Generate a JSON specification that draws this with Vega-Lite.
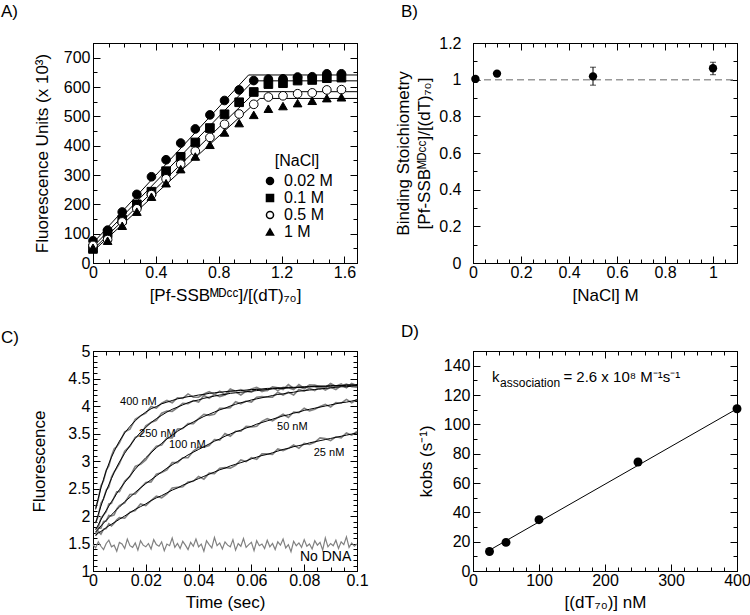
{
"$schema": "https://vega.github.io/schema/vega-lite/v6.json",
"background": "white",
"padding": {"left": 0, "top": 2, "right": 0, "bottom": 0},
"columns": 2,
"spacing": {"row": 88, "column": 116},
"bounds": "flush",
"datasets": {
"kin": [
{"t":0.001,"a":2.15,"b":1.88,"c":1.77,"d":1.68,"e":1.64,"fa":2.12,"fb":1.87,"fc":1.75,"fd":1.71,"fe":1.65},
{"t":0.002,"a":2.30,"b":2.00,"c":1.79,"d":1.78,"e":1.72,"fa":2.32,"fb":2.03,"fc":1.84,"fd":1.76,"fe":1.69},
{"t":0.003,"a":2.55,"b":2.23,"c":1.96,"d":1.78,"e":1.67,"fa":2.51,"fb":2.18,"fc":1.93,"fd":1.82,"fe":1.72},
{"t":0.004,"a":2.64,"b":2.31,"c":2.02,"d":1.90,"e":1.76,"fa":2.67,"fb":2.32,"fc":2.02,"fd":1.87,"fe":1.75},
{"t":0.005,"a":2.83,"b":2.47,"c":2.08,"d":1.91,"e":1.77,"fa":2.82,"fb":2.45,"fc":2.10,"fd":1.92,"fe":1.79},
{"t":0.006,"a":2.91,"b":2.53,"c":2.22,"d":2.01,"e":1.86,"fa":2.95,"fb":2.57,"fc":2.18,"fd":1.97,"fe":1.82},
{"t":0.007,"a":3.09,"b":2.71,"c":2.23,"d":2.00,"e":1.82,"fa":3.07,"fb":2.68,"fc":2.26,"fd":2.02,"fe":1.85},
{"t":0.008,"a":3.22,"b":2.80,"c":2.34,"d":2.02,"e":1.87,"fa":3.17,"fb":2.79,"fc":2.33,"fd":2.07,"fe":1.88},
{"t":0.009,"a":3.26,"b":2.87,"c":2.44,"d":2.13,"e":1.93,"fa":3.27,"fb":2.89,"fc":2.41,"fd":2.12,"fe":1.91},
{"t":0.010,"a":3.33,"b":2.95,"c":2.44,"d":2.19,"e":1.97,"fa":3.36,"fb":2.98,"fc":2.48,"fd":2.16,"fe":1.94},
{"t":0.012,"a":3.53,"b":3.18,"c":2.63,"d":2.24,"e":1.96,"fa":3.51,"fb":3.14,"fc":2.61,"fd":2.26,"fe":2.00},
{"t":0.014,"a":3.58,"b":3.27,"c":2.72,"d":2.39,"e":2.07,"fa":3.63,"fb":3.28,"fc":2.73,"fd":2.34,"fe":2.06},
{"t":0.016,"a":3.76,"b":3.43,"c":2.90,"d":2.40,"e":2.10,"fa":3.73,"fb":3.41,"fc":2.85,"fd":2.43,"fe":2.12},
{"t":0.018,"a":3.82,"b":3.47,"c":2.94,"d":2.51,"e":2.22,"fa":3.82,"fb":3.52,"fc":2.96,"fd":2.51,"fe":2.17},
{"t":0.020,"a":3.87,"b":3.64,"c":3.02,"d":2.61,"e":2.19,"fa":3.89,"fb":3.61,"fc":3.06,"fd":2.59,"fe":2.22},
{"t":0.022,"a":3.99,"b":3.70,"c":3.16,"d":2.62,"e":2.28,"fa":3.95,"fb":3.70,"fc":3.15,"fd":2.66,"fe":2.28},
{"t":0.024,"a":3.96,"b":3.74,"c":3.27,"d":2.76,"e":2.36,"fa":3.99,"fb":3.77,"fc":3.24,"fd":2.73,"fe":2.33},
{"t":0.026,"a":4.05,"b":3.87,"c":3.29,"d":2.79,"e":2.33,"fa":4.04,"fb":3.83,"fc":3.32,"fd":2.80,"fe":2.37},
{"t":0.028,"a":4.10,"b":3.91,"c":3.42,"d":2.84,"e":2.40,"fa":4.07,"fb":3.89,"fc":3.40,"fd":2.87,"fe":2.42},
{"t":0.030,"a":4.06,"b":3.90,"c":3.42,"d":2.97,"e":2.51,"fa":4.10,"fb":3.94,"fc":3.47,"fd":2.93,"fe":2.47},
{"t":0.032,"a":4.15,"b":3.97,"c":3.58,"d":2.97,"e":2.52,"fa":4.13,"fb":3.98,"fc":3.54,"fd":2.99,"fe":2.51},
{"t":0.034,"a":4.14,"b":4.05,"c":3.59,"d":3.06,"e":2.53,"fa":4.15,"fb":4.02,"fc":3.60,"fd":3.05,"fe":2.56},
{"t":0.036,"a":4.22,"b":4.04,"c":3.68,"d":3.06,"e":2.62,"fa":4.17,"fb":4.06,"fc":3.66,"fd":3.11,"fe":2.60},
{"t":0.038,"a":4.16,"b":4.10,"c":3.68,"d":3.18,"e":2.63,"fa":4.18,"fb":4.09,"fc":3.71,"fd":3.16,"fe":2.64},
{"t":0.040,"a":4.16,"b":4.07,"c":3.77,"d":3.25,"e":2.72,"fa":4.20,"fb":4.11,"fc":3.76,"fd":3.21,"fe":2.68},
{"t":0.042,"a":4.22,"b":4.19,"c":3.85,"d":3.25,"e":2.67,"fa":4.21,"fb":4.14,"fc":3.81,"fd":3.26,"fe":2.72},
{"t":0.044,"a":4.26,"b":4.14,"c":3.83,"d":3.28,"e":2.78,"fa":4.23,"fb":4.16,"fc":3.85,"fd":3.31,"fe":2.76},
{"t":0.046,"a":4.21,"b":4.21,"c":3.85,"d":3.39,"e":2.77,"fa":4.24,"fb":4.18,"fc":3.89,"fd":3.36,"fe":2.80},
{"t":0.048,"a":4.27,"b":4.17,"c":3.96,"d":3.38,"e":2.87,"fa":4.25,"fb":4.20,"fc":3.93,"fd":3.40,"fe":2.84},
{"t":0.050,"a":4.21,"b":4.20,"c":3.96,"d":3.50,"e":2.88,"fa":4.26,"fb":4.21,"fc":3.96,"fd":3.45,"fe":2.87},
{"t":0.052,"a":4.31,"b":4.27,"c":3.97,"d":3.45,"e":2.87,"fa":4.27,"fb":4.23,"fc":4.00,"fd":3.49,"fe":2.91},
{"t":0.054,"a":4.27,"b":4.26,"c":4.08,"d":3.54,"e":2.92,"fa":4.28,"fb":4.24,"fc":4.03,"fd":3.53,"fe":2.94},
{"t":0.056,"a":4.30,"b":4.20,"c":4.04,"d":3.54,"e":3.02,"fa":4.28,"fb":4.25,"fc":4.06,"fd":3.56,"fe":2.97},
{"t":0.058,"a":4.26,"b":4.27,"c":4.09,"d":3.63,"e":2.99,"fa":4.29,"fb":4.26,"fc":4.08,"fd":3.60,"fe":3.00},
{"t":0.060,"a":4.31,"b":4.25,"c":4.07,"d":3.62,"e":3.06,"fa":4.30,"fb":4.27,"fc":4.11,"fd":3.63,"fe":3.04},
{"t":0.062,"a":4.34,"b":4.32,"c":4.16,"d":3.63,"e":3.03,"fa":4.30,"fb":4.28,"fc":4.13,"fd":3.67,"fe":3.07},
{"t":0.064,"a":4.29,"b":4.26,"c":4.17,"d":3.72,"e":3.13,"fa":4.31,"fb":4.29,"fc":4.15,"fd":3.70,"fe":3.10},
{"t":0.066,"a":4.28,"b":4.29,"c":4.16,"d":3.77,"e":3.13,"fa":4.32,"fb":4.30,"fc":4.17,"fd":3.73,"fe":3.12},
{"t":0.068,"a":4.35,"b":4.34,"c":4.16,"d":3.73,"e":3.12,"fa":4.32,"fb":4.31,"fc":4.19,"fd":3.76,"fe":3.15},
{"t":0.070,"a":4.33,"b":4.28,"c":4.25,"d":3.79,"e":3.22,"fa":4.33,"fb":4.32,"fc":4.21,"fd":3.79,"fe":3.18},
{"t":0.072,"a":4.30,"b":4.34,"c":4.20,"d":3.85,"e":3.19,"fa":4.33,"fb":4.32,"fc":4.22,"fd":3.82,"fe":3.21},
{"t":0.074,"a":4.39,"b":4.33,"c":4.25,"d":3.79,"e":3.23,"fa":4.34,"fb":4.33,"fc":4.24,"fd":3.84,"fe":3.23},
{"t":0.076,"a":4.32,"b":4.30,"c":4.20,"d":3.89,"e":3.29,"fa":4.34,"fb":4.33,"fc":4.25,"fd":3.87,"fe":3.26},
{"t":0.078,"a":4.35,"b":4.39,"c":4.30,"d":3.88,"e":3.23,"fa":4.34,"fb":4.34,"fc":4.27,"fd":3.89,"fe":3.28},
{"t":0.080,"a":4.31,"b":4.32,"c":4.27,"d":3.96,"e":3.32,"fa":4.35,"fb":4.34,"fc":4.28,"fd":3.92,"fe":3.30},
{"t":0.082,"a":4.38,"b":4.38,"c":4.32,"d":3.91,"e":3.30,"fa":4.35,"fb":4.35,"fc":4.29,"fd":3.94,"fe":3.33},
{"t":0.084,"a":4.38,"b":4.36,"c":4.28,"d":3.94,"e":3.34,"fa":4.36,"fb":4.35,"fc":4.30,"fd":3.96,"fe":3.35},
{"t":0.086,"a":4.35,"b":4.31,"c":4.35,"d":3.99,"e":3.42,"fa":4.36,"fb":4.36,"fc":4.31,"fd":3.98,"fe":3.37},
{"t":0.088,"a":4.33,"b":4.34,"c":4.29,"d":4.03,"e":3.41,"fa":4.36,"fb":4.36,"fc":4.32,"fd":4.00,"fe":3.39},
{"t":0.090,"a":4.41,"b":4.40,"c":4.34,"d":3.98,"e":3.37,"fa":4.37,"fb":4.36,"fc":4.33,"fd":4.02,"fe":3.41},
{"t":0.092,"a":4.35,"b":4.36,"c":4.30,"d":4.06,"e":3.44,"fa":4.37,"fb":4.37,"fc":4.34,"fd":4.04,"fe":3.43},
{"t":0.094,"a":4.38,"b":4.40,"c":4.37,"d":4.05,"e":3.42,"fa":4.37,"fb":4.37,"fc":4.35,"fd":4.06,"fe":3.45},
{"t":0.096,"a":4.33,"b":4.34,"c":4.40,"d":4.12,"e":3.51,"fa":4.38,"fb":4.38,"fc":4.35,"fd":4.07,"fe":3.47},
{"t":0.098,"a":4.41,"b":4.40,"c":4.35,"d":4.06,"e":3.47,"fa":4.38,"fb":4.38,"fc":4.36,"fd":4.09,"fe":3.49},
{"t":0.100,"a":4.37,"b":4.35,"c":4.34,"d":4.12,"e":3.54,"fa":4.38,"fb":4.38,"fc":4.37,"fd":4.11,"fe":3.51}
],
"nodna": [
{"t":0.000,"v":1.48},{"t":0.001,"v":1.42},{"t":0.002,"v":1.53},{"t":0.003,"v":1.45},{"t":0.004,"v":1.39},{"t":0.005,"v":1.50},{"t":0.006,"v":1.56},{"t":0.007,"v":1.44},{"t":0.008,"v":1.47},{"t":0.009,"v":1.36},
{"t":0.010,"v":1.52},{"t":0.011,"v":1.49},{"t":0.012,"v":1.41},{"t":0.013,"v":1.58},{"t":0.014,"v":1.46},{"t":0.015,"v":1.43},{"t":0.016,"v":1.51},{"t":0.017,"v":1.38},{"t":0.018,"v":1.55},{"t":0.019,"v":1.47},
{"t":0.020,"v":1.44},{"t":0.021,"v":1.50},{"t":0.022,"v":1.40},{"t":0.023,"v":1.57},{"t":0.024,"v":1.48},{"t":0.025,"v":1.45},{"t":0.026,"v":1.53},{"t":0.027,"v":1.37},{"t":0.028,"v":1.49},{"t":0.029,"v":1.46},
{"t":0.030,"v":1.60},{"t":0.031,"v":1.43},{"t":0.032,"v":1.50},{"t":0.033,"v":1.41},{"t":0.034,"v":1.54},{"t":0.035,"v":1.47},{"t":0.036,"v":1.39},{"t":0.037,"v":1.52},{"t":0.038,"v":1.45},{"t":0.039,"v":1.58},
{"t":0.040,"v":1.44},{"t":0.041,"v":1.49},{"t":0.042,"v":1.36},{"t":0.043,"v":1.55},{"t":0.044,"v":1.48},{"t":0.045,"v":1.42},{"t":0.046,"v":1.61},{"t":0.047,"v":1.46},{"t":0.048,"v":1.51},{"t":0.049,"v":1.40},
{"t":0.050,"v":1.53},{"t":0.051,"v":1.47},{"t":0.052,"v":1.44},{"t":0.053,"v":1.57},{"t":0.054,"v":1.38},{"t":0.055,"v":1.50},{"t":0.056,"v":1.45},{"t":0.057,"v":1.59},{"t":0.058,"v":1.43},{"t":0.059,"v":1.48},
{"t":0.060,"v":1.52},{"t":0.061,"v":1.37},{"t":0.062,"v":1.55},{"t":0.063,"v":1.46},{"t":0.064,"v":1.49},{"t":0.065,"v":1.41},{"t":0.066,"v":1.56},{"t":0.067,"v":1.44},{"t":0.068,"v":1.50},{"t":0.069,"v":1.39},
{"t":0.070,"v":1.53},{"t":0.071,"v":1.47},{"t":0.072,"v":1.58},{"t":0.073,"v":1.42},{"t":0.074,"v":1.48},{"t":0.075,"v":1.35},{"t":0.076,"v":1.54},{"t":0.077,"v":1.46},{"t":0.078,"v":1.51},{"t":0.079,"v":1.43},
{"t":0.080,"v":1.57},{"t":0.081,"v":1.45},{"t":0.082,"v":1.49},{"t":0.083,"v":1.40},{"t":0.084,"v":1.55},{"t":0.085,"v":1.47},{"t":0.086,"v":1.52},{"t":0.087,"v":1.38},{"t":0.088,"v":1.60},{"t":0.089,"v":1.44},
{"t":0.090,"v":1.50},{"t":0.091,"v":1.46},{"t":0.092,"v":1.56},{"t":0.093,"v":1.41},{"t":0.094,"v":1.53},{"t":0.095,"v":1.48},{"t":0.096,"v":1.62},{"t":0.097,"v":1.43},{"t":0.098,"v":1.51},{"t":0.099,"v":1.45},
{"t":0.100,"v":1.49}
]
},
"concat": [
{
"width": 264, "height": 220,
"title": {"text": "A)", "dx": -92, "offset": 14},
"layer": [
{
"data": {"values": [
{"s":"0.02 M","x":0,"y":68},{"s":"0.02 M","x":0.99,"y":641},{"s":"0.02 M","x":1.68,"y":641},
{"s":"0.1 M","x":0,"y":55},{"s":"0.1 M","x":1.02,"y":621},{"s":"0.1 M","x":1.68,"y":621},
{"s":"0.5 M","x":0,"y":46},{"s":"0.5 M","x":1.035,"y":584},{"s":"0.5 M","x":1.68,"y":584},
{"s":"1 M","x":0,"y":40},{"s":"1 M","x":1.063,"y":561},{"s":"1 M","x":1.68,"y":561}
]},
"mark": {"type": "line", "color": "black", "strokeWidth": 1},
"encoding": {
"x": {"field": "x", "type": "quantitative", "scale": {"domain": [0, 1.68], "nice": false},
 "axis": {"orient": "top", "labels": false, "title": null, "values": [0,0.1,0.2,0.3,0.4,0.5,0.6,0.7,0.8,0.9,1,1.1,1.2,1.3,1.4,1.5,1.6],
  "tickSize": {"condition": {"test": "round(datum.value*10)%4==0", "value": -7}, "value": -4}}},
"y": {"field": "y", "type": "quantitative", "scale": {"domain": [0, 750], "nice": false},
 "axis": {"orient": "right", "labels": false, "title": null, "values": [0,50,100,150,200,250,300,350,400,450,500,550,600,650,700,750],
  "tickSize": {"condition": {"test": "datum.value%100==0", "value": -7}, "value": -4}}},
"detail": {"field": "s"}
}
},
{
"data": {"values": [
{"s":"0.02 M","x":0,"y":76},{"s":"0.02 M","x":0.093,"y":112},{"s":"0.02 M","x":0.186,"y":174},{"s":"0.02 M","x":0.279,"y":234},{"s":"0.02 M","x":0.372,"y":294},{"s":"0.02 M","x":0.465,"y":352},{"s":"0.02 M","x":0.558,"y":409},{"s":"0.02 M","x":0.651,"y":457},{"s":"0.02 M","x":0.744,"y":505},{"s":"0.02 M","x":0.837,"y":554},{"s":"0.02 M","x":0.93,"y":590},{"s":"0.02 M","x":1.023,"y":622},{"s":"0.02 M","x":1.116,"y":627},{"s":"0.02 M","x":1.209,"y":628},{"s":"0.02 M","x":1.302,"y":634},{"s":"0.02 M","x":1.395,"y":635},{"s":"0.02 M","x":1.488,"y":645},{"s":"0.02 M","x":1.581,"y":645},
{"s":"0.1 M","x":0,"y":48},{"s":"0.1 M","x":0.093,"y":101},{"s":"0.1 M","x":0.186,"y":148},{"s":"0.1 M","x":0.279,"y":200},{"s":"0.1 M","x":0.372,"y":243},{"s":"0.1 M","x":0.465,"y":313},{"s":"0.1 M","x":0.558,"y":362},{"s":"0.1 M","x":0.651,"y":411},{"s":"0.1 M","x":0.744,"y":460},{"s":"0.1 M","x":0.837,"y":507},{"s":"0.1 M","x":0.93,"y":548},{"s":"0.1 M","x":1.023,"y":583},{"s":"0.1 M","x":1.116,"y":610},{"s":"0.1 M","x":1.209,"y":613},{"s":"0.1 M","x":1.302,"y":622},{"s":"0.1 M","x":1.395,"y":624},{"s":"0.1 M","x":1.488,"y":630},{"s":"0.1 M","x":1.581,"y":632},
{"s":"0.5 M","x":0,"y":60},{"s":"0.5 M","x":0.093,"y":80},{"s":"0.5 M","x":0.186,"y":140},{"s":"0.5 M","x":0.279,"y":185},{"s":"0.5 M","x":0.372,"y":233},{"s":"0.5 M","x":0.465,"y":287},{"s":"0.5 M","x":0.558,"y":337},{"s":"0.5 M","x":0.651,"y":381},{"s":"0.5 M","x":0.744,"y":428},{"s":"0.5 M","x":0.837,"y":473},{"s":"0.5 M","x":0.93,"y":508},{"s":"0.5 M","x":1.023,"y":541},{"s":"0.5 M","x":1.116,"y":566},{"s":"0.5 M","x":1.209,"y":570},{"s":"0.5 M","x":1.302,"y":577},{"s":"0.5 M","x":1.395,"y":580},{"s":"0.5 M","x":1.488,"y":590},{"s":"0.5 M","x":1.581,"y":591},
{"s":"1 M","x":0,"y":52},{"s":"1 M","x":0.093,"y":76},{"s":"1 M","x":0.186,"y":127},{"s":"1 M","x":0.279,"y":175},{"s":"1 M","x":0.372,"y":226},{"s":"1 M","x":0.465,"y":272},{"s":"1 M","x":0.558,"y":320},{"s":"1 M","x":0.651,"y":363},{"s":"1 M","x":0.744,"y":403},{"s":"1 M","x":0.837,"y":445},{"s":"1 M","x":0.93,"y":477},{"s":"1 M","x":1.023,"y":505},{"s":"1 M","x":1.116,"y":526},{"s":"1 M","x":1.209,"y":535},{"s":"1 M","x":1.302,"y":545},{"s":"1 M","x":1.395,"y":553},{"s":"1 M","x":1.488,"y":562},{"s":"1 M","x":1.581,"y":565}
]},
"mark": {"type": "point", "filled": true, "stroke": "black", "strokeWidth": 1, "opacity": 1, "size": 75},
"encoding": {
"x": {"field": "x", "type": "quantitative", "scale": {"domain": [0, 1.68], "nice": false},
 "axis": {"orient": "bottom", "title": "[Pf-SSBᴹᴰᶜᶜ]/[(dT)₇₀]", "values": [0,0.1,0.2,0.3,0.4,0.5,0.6,0.7,0.8,0.9,1,1.1,1.2,1.3,1.4,1.5,1.6], "format": "~g",
  "labelExpr": "round(datum.value*10)%4==0 ? datum.label : ''",
  "tickSize": {"condition": {"test": "round(datum.value*10)%4==0", "value": -7}, "value": -4}, "labelPadding": 8, "titlePadding": 4}},
"y": {"field": "y", "type": "quantitative", "scale": {"domain": [0, 750], "nice": false},
 "axis": {"orient": "left", "title": "Fluorescence Units (x 10³)", "values": [0,50,100,150,200,250,300,350,400,450,500,550,600,650,700,750],
  "labelExpr": "datum.value%100==0 && datum.value<=700 ? datum.label : ''",
  "tickSize": {"condition": {"test": "datum.value%100==0", "value": -7}, "value": -4}, "labelPadding": 10, "titlePadding": 12}},
"shape": {"field": "s", "type": "nominal", "scale": {"domain": ["0.02 M","0.1 M","0.5 M","1 M"], "range": ["circle","square","circle","triangle-up"]},
 "legend": {"title": "[NaCl]", "orient": "none", "legendX": 169, "legendY": 110, "titleFontSize": 16, "titleFontWeight": "normal", "labelFontSize": 16, "symbolSize": 50, "titleAnchor": "middle", "rowPadding": 1, "labelOffset": 6, "titlePadding": 4, "labelColor": "black", "titleColor": "black",
  "encode": {"symbols": {"update": {"stroke": {"value": "black"}, "strokeWidth": {"value": 1}}}}}},
"fill": {"field": "s", "type": "nominal", "scale": {"domain": ["0.02 M","0.1 M","0.5 M","1 M"], "range": ["black","black","white","black"]},
 "legend": {"title": "[NaCl]", "orient": "none", "legendX": 169, "legendY": 110, "titleFontSize": 16, "titleFontWeight": "normal", "labelFontSize": 16, "symbolSize": 50, "titleAnchor": "middle", "rowPadding": 1, "labelOffset": 6, "titlePadding": 4, "labelColor": "black", "titleColor": "black",
  "encode": {"symbols": {"update": {"stroke": {"value": "black"}, "strokeWidth": {"value": 1}}}}}}
}
}
],
"resolve": {"axis": {"x": "independent", "y": "independent"}}
},
{
"width": 264, "height": 220,
"title": {"text": "B)", "dx": -72, "offset": 14},
"layer": [
{
"data": {"values": [{"n":0,"r":1},{"n":1.1,"r":1}]},
"mark": {"type": "line", "color": "#999999", "strokeWidth": 1.5, "strokeDash": [7, 4]},
"encoding": {
"x": {"field": "n", "type": "quantitative", "scale": {"domain": [0, 1.1], "nice": false},
 "axis": {"orient": "top", "labels": false, "title": null, "values": [0,0.05,0.1,0.15,0.2,0.25,0.3,0.35,0.4,0.45,0.5,0.55,0.6,0.65,0.7,0.75,0.8,0.85,0.9,0.95,1,1.05,1.1],
  "tickSize": {"condition": {"test": "round(datum.value*20)%4==0", "value": -7}, "value": -4}}},
"y": {"field": "r", "type": "quantitative", "scale": {"domain": [0, 1.2], "nice": false},
 "axis": {"orient": "right", "labels": false, "title": null, "values": [0,0.1,0.2,0.3,0.4,0.5,0.6,0.7,0.8,0.9,1,1.1,1.2],
  "tickSize": {"condition": {"test": "round(datum.value*10)%2==0", "value": -7}, "value": -4}}}
}
},
{
"data": {"values": [{"n":0.5,"lo":0.97,"hi":1.068},{"n":1.0,"lo":1.027,"hi":1.095}]},
"mark": {"type": "rule", "color": "black", "strokeWidth": 1},
"encoding": {
"x": {"field": "n", "type": "quantitative", "axis": null},
"y": {"field": "lo", "type": "quantitative", "axis": null},
"y2": {"field": "hi"}
}
},
{
"data": {"values": [{"n":0.5,"e":0.97},{"n":0.5,"e":1.068},{"n":1.0,"e":1.027},{"n":1.0,"e":1.095}]},
"mark": {"type": "tick", "orient": "horizontal", "color": "black", "size": 6, "thickness": 1},
"encoding": {
"x": {"field": "n", "type": "quantitative", "axis": null},
"y": {"field": "e", "type": "quantitative", "axis": null}
}
},
{
"data": {"values": [{"n":0.01,"r":1.004},{"n":0.1,"r":1.033},{"n":0.5,"r":1.018},{"n":1.0,"r":1.062}]},
"mark": {"type": "point", "filled": true, "color": "black", "opacity": 1, "size": 70},
"encoding": {
"x": {"field": "n", "type": "quantitative",
 "axis": {"orient": "bottom", "title": "[NaCl] M", "values": [0,0.05,0.1,0.15,0.2,0.25,0.3,0.35,0.4,0.45,0.5,0.55,0.6,0.65,0.7,0.75,0.8,0.85,0.9,0.95,1,1.05,1.1], "format": "~g",
  "labelExpr": "round(datum.value*20)%4==0 ? datum.label : ''",
  "tickSize": {"condition": {"test": "round(datum.value*20)%4==0", "value": -7}, "value": -4}, "labelPadding": 8, "titlePadding": 4}},
"y": {"field": "r", "type": "quantitative",
 "axis": {"orient": "left", "title": ["Binding Stoichiometry", "[Pf-SSBᴹᴰᶜᶜ]/[(dT)₇₀]"], "titleLineHeight": 21, "values": [0,0.1,0.2,0.3,0.4,0.5,0.6,0.7,0.8,0.9,1,1.1,1.2], "format": "~g",
  "labelExpr": "round(datum.value*10)%2==0 ? datum.label : ''",
  "tickSize": {"condition": {"test": "round(datum.value*10)%2==0", "value": -7}, "value": -4}, "labelPadding": 19, "titlePadding": 5}}
}
}
],
"resolve": {"axis": {"x": "independent", "y": "independent"}}
},
{
"width": 264, "height": 220,
"title": {"text": "C)", "dx": -92, "offset": -4},
"layer": [
{
"data": {"name": "nodna"},
"mark": {"type": "line", "color": "#808080", "strokeWidth": 1.2},
"encoding": {
"x": {"field": "t", "type": "quantitative", "scale": {"domain": [0, 0.1], "nice": false},
 "axis": {"orient": "top", "labels": false, "title": null, "values": [0,0.005,0.01,0.015,0.02,0.025,0.03,0.035,0.04,0.045,0.05,0.055,0.06,0.065,0.07,0.075,0.08,0.085,0.09,0.095,0.1],
  "tickSize": {"condition": {"test": "round(datum.value*1000)%20==0", "value": -7}, "value": -4}}},
"y": {"field": "v", "type": "quantitative", "scale": {"domain": [1, 5], "nice": false, "zero": false},
 "axis": {"orient": "right", "labels": false, "title": null, "values": [1,1.1,1.2,1.3,1.4,1.5,1.6,1.7,1.8,1.9,2,2.1,2.2,2.3,2.4,2.5,2.6,2.7,2.8,2.9,3,3.1,3.2,3.3,3.4,3.5,3.6,3.7,3.8,3.9,4,4.1,4.2,4.3,4.4,4.5,4.6,4.7,4.8,4.9,5],
  "tickSize": {"condition": {"test": "round(datum.value*10)%5==0", "value": -7}, "value": -4}}}
}
},
{
"data": {"name": "kin"},
"transform": [{"fold": ["a","b","c","d","e"], "as": ["k","v"]}],
"mark": {"type": "line", "color": "#808080", "strokeWidth": 1.6},
"encoding": {
"x": {"field": "t", "type": "quantitative", "axis": null},
"y": {"field": "v", "type": "quantitative", "axis": null},
"detail": {"field": "k"}
}
},
{
"data": {"name": "kin"},
"transform": [{"fold": ["fa","fb","fc","fd","fe"], "as": ["k","v"]}],
"mark": {"type": "line", "color": "black", "strokeWidth": 1},
"encoding": {
"x": {"field": "t", "type": "quantitative",
 "axis": {"orient": "bottom", "title": "Time (sec)", "values": [0,0.005,0.01,0.015,0.02,0.025,0.03,0.035,0.04,0.045,0.05,0.055,0.06,0.065,0.07,0.075,0.08,0.085,0.09,0.095,0.1], "format": "~g",
  "labelExpr": "round(datum.value*1000)%20==0 ? datum.label : ''",
  "tickSize": {"condition": {"test": "round(datum.value*1000)%20==0", "value": -7}, "value": -4}, "labelPadding": 8, "titlePadding": 3}},
"y": {"field": "v", "type": "quantitative",
 "axis": {"orient": "left", "title": "Fluorescence", "values": [1,1.1,1.2,1.3,1.4,1.5,1.6,1.7,1.8,1.9,2,2.1,2.2,2.3,2.4,2.5,2.6,2.7,2.8,2.9,3,3.1,3.2,3.3,3.4,3.5,3.6,3.7,3.8,3.9,4,4.1,4.2,4.3,4.4,4.5,4.6,4.7,4.8,4.9,5], "format": "~g",
  "labelExpr": "round(datum.value*10)%5==0 ? datum.label : ''",
  "tickSize": {"condition": {"test": "round(datum.value*10)%5==0", "value": -7}, "value": -4}, "labelPadding": 10, "titlePadding": 19}},
"detail": {"field": "k"}
}
},
{
"data": {"values": [
{"t":0.0172,"v":4.08,"l":"400 nM"},{"t":0.0244,"v":3.49,"l":"250 nM"},{"t":0.0357,"v":3.30,"l":"100 nM"},{"t":0.0755,"v":3.61,"l":"50 nM"},{"t":0.0894,"v":3.14,"l":"25 nM"}
]},
"mark": {"type": "text", "fontSize": 11, "align": "center", "baseline": "middle", "color": "black"},
"encoding": {
"x": {"field": "t", "type": "quantitative", "axis": null},
"y": {"field": "v", "type": "quantitative", "axis": null},
"text": {"field": "l"}
}
},
{
"data": {"values": [{"t":0.0881,"v":1.26,"l":"No DNA"}]},
"mark": {"type": "text", "fontSize": 14, "align": "center", "baseline": "middle", "color": "black"},
"encoding": {
"x": {"field": "t", "type": "quantitative", "axis": null},
"y": {"field": "v", "type": "quantitative", "axis": null},
"text": {"field": "l"}
}
}
],
"resolve": {"axis": {"x": "independent", "y": "independent"}}
},
{
"width": 264, "height": 220,
"title": {"text": "D)", "dx": -72, "offset": 2},
"layer": [
{
"data": {"values": [{"c":25,"k":14.2},{"c":400,"k":110.6}]},
"mark": {"type": "line", "color": "black", "strokeWidth": 1},
"encoding": {
"x": {"field": "c", "type": "quantitative", "scale": {"domain": [0, 400], "nice": false},
 "axis": {"orient": "top", "labels": false, "title": null, "values": [0,20,40,60,80,100,120,140,160,180,200,220,240,260,280,300,320,340,360,380,400],
  "tickSize": {"condition": {"test": "datum.value%100==0", "value": -7}, "value": -4}}},
"y": {"field": "k", "type": "quantitative", "scale": {"domain": [0, 150], "nice": false},
 "axis": {"orient": "right", "labels": false, "title": null, "values": [0,10,20,30,40,50,60,70,80,90,100,110,120,130,140,150],
  "tickSize": {"condition": {"test": "datum.value%20==0", "value": -7}, "value": -4}}}
}
},
{
"data": {"values": [{"c":25,"k":13.3},{"c":50,"k":19.5},{"c":100,"k":35},{"c":250,"k":74.3},{"c":400,"k":110.6}]},
"mark": {"type": "point", "filled": true, "color": "black", "opacity": 1, "size": 80},
"encoding": {
"x": {"field": "c", "type": "quantitative",
 "axis": {"orient": "bottom", "title": "[(dT₇₀)] nM", "values": [0,20,40,60,80,100,120,140,160,180,200,220,240,260,280,300,320,340,360,380,400],
  "labelExpr": "datum.value%100==0 ? datum.label : ''",
  "tickSize": {"condition": {"test": "datum.value%100==0", "value": -7}, "value": -4}, "labelPadding": 8, "titlePadding": 3}},
"y": {"field": "k", "type": "quantitative",
 "axis": {"orient": "left", "title": "kobs (s⁻¹)", "values": [0,10,20,30,40,50,60,70,80,90,100,110,120,130,140,150],
  "labelExpr": "datum.value%20==0 && datum.value<=140 ? datum.label : ''",
  "tickSize": {"condition": {"test": "datum.value%20==0", "value": -7}, "value": -4}, "labelPadding": 10, "titlePadding": 8}}
}
},
{
"data": {"values": [{"c":28.7,"k":129,"l":"k"}]},
"mark": {"type": "text", "fontSize": 15, "align": "left", "baseline": "alphabetic", "color": "black"},
"encoding": {"x": {"field": "c", "type": "quantitative", "axis": null}, "y": {"field": "k", "type": "quantitative", "axis": null}, "text": {"field": "l"}}
},
{
"data": {"values": [{"c":41,"k":125.5,"l":"association"}]},
"mark": {"type": "text", "fontSize": 12, "align": "left", "baseline": "alphabetic", "color": "black"},
"encoding": {"x": {"field": "c", "type": "quantitative", "axis": null}, "y": {"field": "k", "type": "quantitative", "axis": null}, "text": {"field": "l"}}
},
{
"data": {"values": [{"c":137,"k":129,"l":"= 2.6 x 10⁸ M⁻¹s⁻¹"}]},
"mark": {"type": "text", "fontSize": 15, "align": "left", "baseline": "alphabetic", "color": "black"},
"encoding": {"x": {"field": "c", "type": "quantitative", "axis": null}, "y": {"field": "k", "type": "quantitative", "axis": null}, "text": {"field": "l"}}
}
],
"resolve": {"axis": {"x": "independent", "y": "independent"}}
}
],
"config": {
"font": "Liberation Sans",
"view": {"stroke": "black", "strokeWidth": 1},
"axis": {"grid": false, "domainColor": "black", "domainWidth": 1, "tickColor": "black", "tickWidth": 1, "labelColor": "black", "labelFontSize": 16, "labelFont": "Liberation Sans", "titleFont": "Liberation Sans", "titleFontSize": 17, "titleFontWeight": "normal", "titleColor": "black", "labelFlush": false, "labelOverlap": false, "labelBound": false},
"title": {"fontSize": 17, "fontWeight": "normal", "anchor": "start", "frame": "group", "font": "Liberation Sans", "color": "black"},
"text": {"font": "Liberation Sans"},
"legend": {"labelFont": "Liberation Sans", "titleFont": "Liberation Sans"}
}
}
